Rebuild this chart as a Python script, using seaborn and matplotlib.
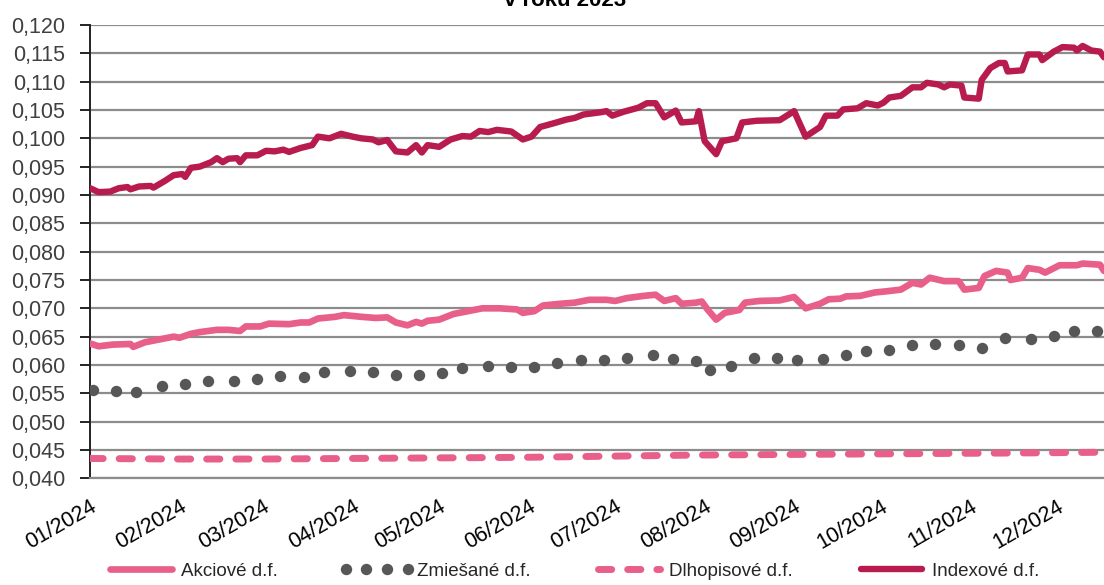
import numpy as np
import pandas as pd
import matplotlib
matplotlib.use("Agg")
import matplotlib.pyplot as plt
from matplotlib.ticker import FuncFormatter, MultipleLocator
from matplotlib.lines import Line2D
import seaborn as sns

# ---------------- data (day offset from 1 Jan 2024, value) ----------------
idx_day = [0, 3, 7, 10, 13, 14, 17, 21, 22, 26, 29, 32, 33, 35, 38, 42, 44, 46, 48, 51, 52, 54,
           58, 61, 64, 67, 69, 73, 77, 79, 83, 87, 91, 94, 98, 100, 103, 106, 110, 113, 115, 117,
           121, 125, 129, 132, 135, 138, 141, 146, 150, 153, 156, 161, 165, 168, 171, 177, 179,
           181, 185, 190, 193, 196, 199, 203, 205, 210, 211, 213, 217, 219, 224, 226, 231, 239,
           244, 248, 253, 255, 259, 261, 266, 269, 273, 275, 277, 281, 285, 288, 290, 294, 296,
           298, 302, 303, 308, 309, 312, 315, 317, 318, 323, 325, 329, 330, 334, 337, 341, 342,
           344, 347, 350, 351.4]
idx_val = [0.0912, 0.0905, 0.0906, 0.0912, 0.0914, 0.0910, 0.0915, 0.0916, 0.0913, 0.0925,
           0.0935, 0.0937, 0.0932, 0.0948, 0.0950, 0.0958, 0.0965, 0.0958, 0.0964, 0.0965,
           0.0958, 0.0970, 0.0970, 0.0978, 0.0977, 0.0980, 0.0976, 0.0983, 0.0988, 0.1003,
           0.1000, 0.1008, 0.1003, 0.1000, 0.0998, 0.0993, 0.0997, 0.0977, 0.0975, 0.0988,
           0.0975, 0.0988, 0.0985, 0.0998, 0.1004, 0.1003, 0.1013, 0.1011, 0.1015, 0.1012,
           0.0998, 0.1003, 0.1020, 0.1027, 0.1033, 0.1036, 0.1042, 0.1046, 0.1048, 0.1040,
           0.1047, 0.1054, 0.1062, 0.1062, 0.1037, 0.1049, 0.1028, 0.1030, 0.1048, 0.0995,
           0.0972, 0.0995, 0.1000, 0.1028, 0.1031, 0.1032, 0.1048, 0.1003, 0.1020, 0.1040,
           0.1040, 0.1051, 0.1053, 0.1062, 0.1058, 0.1063, 0.1072, 0.1075, 0.1090, 0.1090,
           0.1098, 0.1095, 0.1090, 0.1095, 0.1093, 0.1072, 0.1070, 0.1103, 0.1124, 0.1133,
           0.1133, 0.1118, 0.1120, 0.1148, 0.1148, 0.1138, 0.1153, 0.1161, 0.1160, 0.1155,
           0.1163, 0.1155, 0.1153, 0.1143]

akc_day = [0, 3, 8, 14, 15, 19, 24, 29, 31, 35, 38, 44, 48, 52, 54, 59, 62, 69, 73, 76, 79, 85,
           88, 94, 99, 103, 106, 110, 113, 115, 117, 121, 126, 131, 136, 142, 148, 150, 154, 157,
           163, 168, 173, 179, 182, 186, 192, 196, 199, 203, 205, 210, 212, 214, 217, 220, 225,
           227, 232, 239, 244, 248, 253, 256, 260, 262, 267, 272, 276, 281, 285, 288, 291, 296,
           301, 303, 308, 310, 314, 318, 319, 323, 325, 329, 331, 336, 342, 344, 350, 351.4]
akc_val = [0.0638, 0.0633, 0.0636, 0.0637, 0.0632, 0.0640, 0.0645, 0.0650, 0.0648, 0.0655,
           0.0658, 0.0662, 0.0662, 0.0660, 0.0668, 0.0668, 0.0673, 0.0672, 0.0675, 0.0675,
           0.0682, 0.0685, 0.0688, 0.0685, 0.0683, 0.0684, 0.0675, 0.0670, 0.0676, 0.0673,
           0.0678, 0.0680, 0.0690, 0.0695, 0.0700, 0.0700, 0.0698, 0.0692, 0.0695, 0.0705,
           0.0708, 0.0710, 0.0715, 0.0715, 0.0713, 0.0718, 0.0722, 0.0724, 0.0713, 0.0718,
           0.0708, 0.0710, 0.0712, 0.0698, 0.0680, 0.0692, 0.0697, 0.0710, 0.0713, 0.0714,
           0.0720, 0.0700, 0.0708, 0.0716, 0.0717, 0.0721, 0.0722, 0.0728, 0.0730, 0.0733,
           0.0745, 0.0742, 0.0754, 0.0748, 0.0748, 0.0733, 0.0736, 0.0757, 0.0766, 0.0763,
           0.0750, 0.0754, 0.0771, 0.0768, 0.0763, 0.0776, 0.0776, 0.0779, 0.0777, 0.0766]

zmi_day = [1, 9, 16, 25, 33, 41, 50, 58, 66, 74, 81, 90, 98, 106, 114, 122, 129, 138, 146, 154,
           162, 170, 178, 186, 195, 202, 210, 215, 222, 230, 238, 245, 254, 262, 269, 277, 285,
           293, 301, 309, 317, 326, 334, 341, 349]
zmi_val = [0.0556, 0.0554, 0.0553, 0.0563, 0.0567, 0.0572, 0.0571, 0.0575, 0.0580, 0.0578,
           0.0588, 0.0590, 0.0588, 0.0583, 0.0583, 0.0585, 0.0595, 0.0598, 0.0597, 0.0596,
           0.0603, 0.0609, 0.0609, 0.0612, 0.0617, 0.0610, 0.0607, 0.0591, 0.0598, 0.0612,
           0.0612, 0.0609, 0.0610, 0.0618, 0.0625, 0.0627, 0.0635, 0.0637, 0.0635, 0.0630,
           0.0647, 0.0645, 0.0652, 0.0660, 0.0660]

dlh_day = [0, 30, 60, 90, 120, 150, 180, 210, 240, 270, 300, 330, 351.4]
dlh_val = [0.0435, 0.0434, 0.0434, 0.0435, 0.0436, 0.0437, 0.0439, 0.0441, 0.0442, 0.0443,
           0.0444, 0.0445, 0.0446]

series_names = ["Akciové d.f.", "Zmiešané d.f.", "Dlhopisové d.f.", "Indexové d.f."]
month_labels = ["01/2024", "02/2024", "03/2024", "04/2024", "05/2024", "06/2024",
                "07/2024", "08/2024", "09/2024", "10/2024", "11/2024", "12/2024"]
title_text = "v roku 2023"

# ---------------- figure ----------------
sns.set_theme(style="white")
plt.rcParams["font.family"] = ["Liberation Sans", "DejaVu Sans"]

start = pd.Timestamp("2024-01-01")
def to_dates(days):
    return start + pd.to_timedelta(np.array(days, dtype=float), unit="D")

fig = plt.figure(figsize=(11.04, 5.85), dpi=100)
ax = fig.add_axes([90 / 1104, 1 - 478.3 / 585, 1 - 90 / 1104, (478.3 - 25) / 585])

c_akc = "#E8608A"
c_idx = "#B81B4D"
c_zmi = "#575757"
dash = (0, (1.9, 2.3))

df_akc = pd.DataFrame({"d": to_dates(akc_day), "v": akc_val})
df_idx = pd.DataFrame({"d": to_dates(idx_day), "v": idx_val})
df_zmi = pd.DataFrame({"d": to_dates(zmi_day), "v": zmi_val})
df_dlh = pd.DataFrame({"d": to_dates(dlh_day), "v": dlh_val})

for y in np.arange(0.040, 0.1201, 0.005):
    ax.axhline(y, color="#8C8C8C", lw=1.6, zorder=0)

sns.lineplot(data=df_dlh, x="d", y="v", ax=ax, color=c_akc, lw=5.0,
             linestyle=dash, dash_capstyle="round", zorder=3)
sns.lineplot(data=df_zmi, x="d", y="v", ax=ax, color=c_zmi, linestyle="none",
             marker="o", markersize=8.2, markeredgewidth=0, zorder=3)
sns.lineplot(data=df_akc, x="d", y="v", ax=ax, color=c_akc, lw=4.8,
             solid_joinstyle="round", solid_capstyle="round", zorder=4)
sns.lineplot(data=df_idx, x="d", y="v", ax=ax, color=c_idx, lw=4.6,
             solid_joinstyle="round", solid_capstyle="round", zorder=4)

ax.set_xlim(start, start + pd.Timedelta(days=351.4))
ax.set_ylim(0.040, 0.120)
ax.yaxis.set_major_locator(MultipleLocator(0.005))
ax.yaxis.set_major_formatter(FuncFormatter(lambda v, p: f"{v:.3f}".replace(".", ",")))

ticks = [start + pd.DateOffset(months=i) for i in range(12)]
ax.set_xticks(ticks)
ax.set_xticklabels(month_labels, rotation=30, ha="right", rotation_mode="anchor",
                   fontsize=15.5, color="black")
ax.tick_params(axis="x", direction="inout", length=13, width=1.6, color="#8C8C8C", pad=6)
ax.tick_params(axis="y", direction="out", length=7, width=1.4, color="#222222",
               labelsize=15.5, labelcolor="#404040", pad=11, left=True)
ax.set_xlabel("")
ax.set_ylabel("")

for s in ["top", "right"]:
    ax.spines[s].set_visible(False)
ax.spines["left"].set_color("#222222")
ax.spines["left"].set_linewidth(1.4)
ax.spines["bottom"].set_color("#8C8C8C")
ax.spines["bottom"].set_linewidth(1.6)

handles = [
    Line2D([], [], color=c_akc, lw=4.8, solid_capstyle="round"),
    Line2D([], [], color=c_zmi, linestyle="none", marker="o", markersize=8.2, markeredgewidth=0),
    Line2D([], [], color=c_akc, lw=5.0, linestyle=dash, dash_capstyle="round"),
    Line2D([], [], color=c_idx, lw=4.6, solid_capstyle="round"),
]
leg = fig.legend(handles, series_names, loc="center", bbox_to_anchor=(0.518, 1 - 571 / 585),
                 ncol=4, frameon=False, handlelength=3.9, handletextpad=0.2,
                 columnspacing=3.3, numpoints=4,
                 prop={"family": ["Liberation Sans"], "size": 13.5})

fig.text(0.512, 1 - 6 / 585, title_text, ha="center", va="baseline", fontsize=16,
         fontweight="bold", color="black")

fig.savefig("out.png", dpi=100)
